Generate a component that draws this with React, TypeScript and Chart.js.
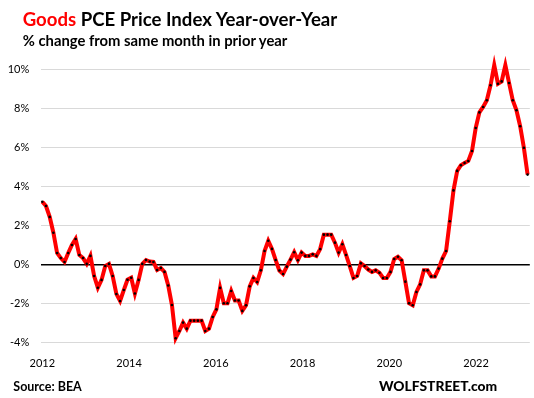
import { useEffect, useRef } from 'react';
import { Chart, registerables } from 'chart.js';

Chart.register(...registerables);

// Goods PCE price index, % change year-over-year, monthly Jan 2012 – Dec 2022
const goodsPceYoY: number[] = [
  3.21, 2.99, 2.43, 1.62, 0.58, 0.32, 0.12, 0.58, 0.99, 1.30, 0.48, 0.32,
  0.02, 0.43, -0.60, -1.20, -0.80, -0.09, 0.02, -0.60, -1.52, -1.88, -1.32, -0.79,
  -0.69, -1.50, -0.80, 0.02, 0.22, 0.14, 0.12, -0.29, -0.19, -0.39, -1.09, -2.09,
  -3.79, -3.42, -2.99, -3.30, -2.89, -2.89, -2.89, -2.89, -3.42, -3.30, -2.70, -2.31,
  -1.21, -2.00, -2.00, -1.37, -1.86, -1.86, -2.39, -2.10, -1.13, -0.70, -0.91, -0.31,
  0.68, 1.21, 0.79, 0.22, -0.32, -0.50, -0.12, 0.24, 0.62, 0.21, 0.60, 0.43,
  0.43, 0.51, 0.43, 0.78, 1.52, 1.52, 1.52, 1.11, 0.60, 1.03, 0.48, -0.09,
  -0.70, -0.60, 0.05, -0.09, -0.27, -0.39, -0.31, -0.43, -0.70, -0.70, -0.39, 0.27,
  0.39, 0.21, -0.89, -2.00, -2.10, -1.42, -1.03, -0.31, -0.31, -0.62, -0.62, -0.22,
  0.29, 0.68, 2.21, 3.79, 4.79, 5.08, 5.20, 5.30, 5.81, 6.99, 7.79, 8.07,
  8.41, 9.18, 10.21, 9.26, 9.38, 10.21, 9.30, 8.41, 7.90, 7.08, 5.98, 4.60,
];

const yearLabels: string[] = ['2012', '2014', '2016', '2018', '2020', '2022'];
const yTickMin = -4;
const yTickMax = 10;
const yTickStep = 2;

// spacing (in months along the axis) between the year labels as drawn in the reference
const yearLabelSpacing = 23.42;

const tickFont = { family: 'Lato, "Liberation Sans", sans-serif', size: 11 };

export default function App() {
  const ref = useRef<HTMLCanvasElement>(null);

  useEffect(() => {
    const canvas = ref.current;
    if (!canvas) return;
    const chart = new Chart(canvas, {
      type: 'line',
      data: {
        datasets: [
          {
            data: goodsPceYoY.map((v, i) => ({ x: i, y: v })),
            borderColor: '#ff0000',
            borderWidth: 4,
            pointRadius: 1.3,
            pointBackgroundColor: '#000000',
            pointBorderWidth: 0,
            tension: 0,
            clip: false as any,
          },
        ],
      },
      options: {
        responsive: false,
        animation: false,
        layout: { padding: { left: 0, right: 4.2, top: 69.3, bottom: 25.7 } },
        plugins: { legend: { display: false }, tooltip: { enabled: false } },
        scales: {
          x: {
            type: 'linear',
            min: -0.4,
            max: goodsPceYoY.length - 1 + 0.6,
            grid: { display: false },
            border: { display: false },
            afterBuildTicks: (s: any) => {
              s.ticks = yearLabels.map((_, i) => ({ value: i * yearLabelSpacing }));
            },
            afterFit: (s: any) => {
              s.height = 30;
            },
            ticks: {
              autoSkip: false,
              maxRotation: 0,
              padding: 7,
              color: '#000000',
              font: tickFont,
              callback: (_v: any, i: number) => yearLabels[i],
            },
          },
          y: {
            min: yTickMin,
            max: yTickMax,
            afterFit: (s: any) => {
              s.width = 40.8;
            },
            grid: {
              drawTicks: false,
              color: (ctx: any) => (ctx.tick && ctx.tick.value === 0 ? '#000000' : '#d9d9d9'),
              lineWidth: (ctx: any) => (ctx.tick && ctx.tick.value === 0 ? 1.5 : 1),
            },
            border: { display: false },
            ticks: {
              stepSize: yTickStep,
              padding: 11.5,
              color: '#000000',
              font: tickFont,
              callback: (v: any) => v + '%',
            },
          },
        },
      },
    });
    return () => chart.destroy();
  }, []);

  const base: React.CSSProperties = {
    position: 'absolute',
    whiteSpace: 'nowrap',
    fontFamily: 'Lato, "Liberation Sans", sans-serif',
    fontWeight: 700,
    lineHeight: 1,
    color: '#000',
  };

  return (
    <div style={{ position: 'fixed', left: 0, top: 0, width: 534, height: 398, background: '#fff' }}>
      <canvas ref={ref} width={534} height={398} style={{ position: 'absolute', left: 0, top: 0, display: 'block' }} />
      <div style={{ ...base, left: 22.7, top: 10.2, fontSize: 18.6 }}>
        <span style={{ color: '#ff0000' }}>Goods</span> PCE Price Index Year-over-Year
      </div>
      <div style={{ ...base, left: 22.7, top: 33, fontSize: 14.8 }}>% change from same month in prior year</div>
      <div style={{ ...base, left: 13.3, top: 381.2, fontSize: 12.5 }}>Source: BEA</div>
      <div style={{ ...base, left: 379, top: 379.3, fontSize: 13.8, fontWeight: 900 }}>WOLFSTREET.com</div>
    </div>
  );
}
